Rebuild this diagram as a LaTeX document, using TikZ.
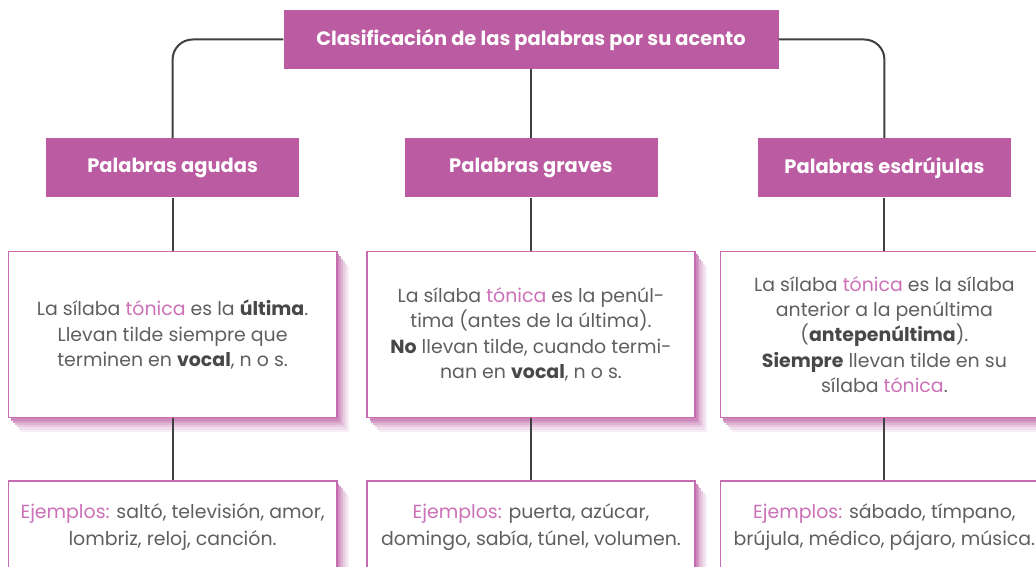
\documentclass[tikz,border=0pt]{standalone}
\usepackage{fontspec}
\setmainfont{Poppins}
\usepackage{xcolor}
\usetikzlibrary{positioning}
\definecolor{boxmagenta}{RGB}{187,91,161}
\definecolor{rimpink}{RGB}{199,108,178}
\definecolor{accentpink}{RGB}{204,112,184}
\definecolor{textgrey}{RGB}{95,95,95}
\definecolor{boldgrey}{RGB}{72,72,72}
\definecolor{linegrey}{RGB}{64,64,64}
\newcommand{\ton}[1]{\textcolor{accentpink}{#1}}
\newcommand{\fuerte}[1]{\textbf{\textcolor{boldgrey}{#1}}}

\begin{document}
\begin{tikzpicture}[x=1bp,y=-1bp,
  headbox/.style={fill=boxmagenta,text=white,inner sep=0pt,
                  font=\fontsize{19.5}{22}\selectfont\bfseries,
                  minimum width=253bp,minimum height=59bp},
  titlebox/.style={headbox,minimum width=495bp},
  glow/.style n args={3}{preaction={fill=boxmagenta!#3,
                  transform canvas={xshift=#1bp,yshift=-#2bp}}},
  infobox/.style={glow={12}{14}{10},glow={10}{12}{20},glow={8}{9.5}{32},
                  glow={6}{7}{45},glow={4}{5}{60},glow={2.5}{3}{72},
                  draw=rimpink,line width=1.8bp,fill=white,align=center,
                  text=textgrey,inner sep=0pt,
                  font=\fontsize{19}{25.5}\selectfont,
                  minimum width=328bp,minimum height=166bp},
  examplebox/.style={infobox,minimum height=91bp,
                     font=\fontsize{19}{27}\selectfont},
  link/.style={draw=linegrey,line width=2bp}
]
\useasboundingbox (0,0) rectangle (1036,567);

\node[titlebox] (title) at (531,39.5) {Clasificación de las palabras por su acento};

\node[headbox, below=69bp of title] (graves) {Palabras graves};
\node[headbox, left=105bp of graves] (agudas) {Palabras agudas};
\node[headbox, right=100bp of graves] (esdrujulas) {Palabras esdrújulas};

\node[infobox, below=53bp of agudas] (regla1)
  {La sílaba \ton{tónica} es la \fuerte{última}.\\
   Llevan tilde siempre que\\
   terminen en \fuerte{vocal}, n o s.};
\node[infobox, below=53bp of graves] (regla2)
  {La sílaba \ton{tónica} es la penúl-\\
   tima (antes de la última).\\
   \fuerte{No} llevan tilde, cuando termi-\\
   nan en \fuerte{vocal}, n o s.};
\node[infobox, below=53bp of esdrujulas] (regla3)
  {La sílaba \ton{tónica} es la sílaba\\
   anterior a la penúltima\\
   (\fuerte{antepenúltima}).\\
   \fuerte{Siempre} llevan tilde en su\\
   sílaba \ton{tónica}.};

\node[examplebox, below=62bp of regla1] (ejemplo1)
  {\ton{Ejemplos:} saltó, televisión, amor,\\
   lombriz, reloj, canción.};
\node[examplebox, below=62bp of regla2] (ejemplo2)
  {\ton{Ejemplos:} puerta, azúcar,\\
   domingo, sabía, túnel, volumen.};
\node[examplebox, below=62bp of regla3] (ejemplo3)
  {\ton{Ejemplos:} sábado, tímpano,\\
   brújula, médico, pájaro, música.};

% connectors
\draw[link, rounded corners=20bp] (title.west) -| (agudas.north);
\draw[link, rounded corners=20bp] (title.east) -| (esdrujulas.north);
\draw[link] (title.south) -- (graves.north);
\draw[link] (agudas.south) -- (regla1.north);
\draw[link] (graves.south) -- (regla2.north);
\draw[link] (esdrujulas.south) -- (regla3.north);
\foreach \col in {1,2,3} {
  \draw[link] (regla\col.south) -- (ejemplo\col.north);
}
\end{tikzpicture}
\end{document}
